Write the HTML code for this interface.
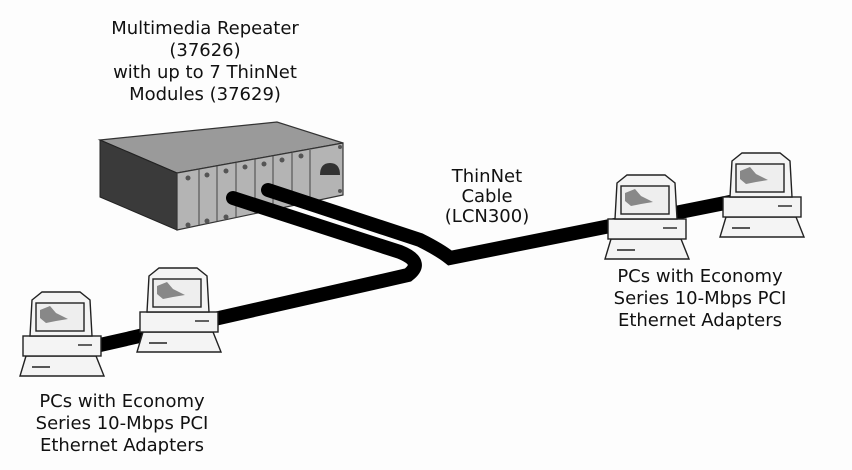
<!DOCTYPE html>
<html><head><meta charset="utf-8"><style>
html,body{margin:0;padding:0;background:#fdfdfd;}
svg{display:block}
text{font-family:"DejaVu Sans","Liberation Sans",sans-serif;font-size:18px;fill:#111;text-anchor:middle}
</style></head><body>
<svg width="852" height="470" viewBox="0 0 852 470" xmlns="http://www.w3.org/2000/svg">
<defs>
<g id="pc" stroke="#222" stroke-width="1.4" fill="#f4f4f4">
  <polygon points="6,64 76,64 84,84 0,84"/>
  <line x1="12" y1="75" x2="30" y2="75"/>
  <rect x="3" y="44" width="78" height="20"/>
  <line x1="58" y1="53" x2="72" y2="53"/>
  <polygon points="12,8 22,0 60,0 70,8 72,44 10,44"/>
  <rect x="16" y="11" width="48" height="28" fill="#eee"/>
  <path d="M20,18 L30,14 L36,21 L48,27 L36,29 L26,31 L20,26Z" fill="#888" stroke="none"/>
</g>
</defs>
<text x="205" y="34">Multimedia Repeater</text>
<text x="205" y="56">(37626)</text>
<text x="205" y="78">with up to 7 ThinNet</text>
<text x="205" y="100">Modules (37629)</text>
<text x="487" y="182">ThinNet</text>
<text x="487" y="202">Cable</text>
<text x="487" y="222">(LCN300)</text>
<text x="700" y="282">PCs with Economy</text>
<text x="700" y="304">Series 10-Mbps PCI</text>
<text x="700" y="326">Ethernet Adapters</text>
<text x="122" y="407">PCs with Economy</text>
<text x="122" y="429">Series 10-Mbps PCI</text>
<text x="122" y="451">Ethernet Adapters</text>
<polygon points="100,140 277,122 343,143 177,173" fill="#9a9a9a" stroke="#333" stroke-width="1.2"/>
<polygon points="100,140 177,173 177,230 100,197" fill="#3a3a3a" stroke="#222"/>
<polygon points="177,173 343,143 343,195 177,230" fill="#b4b4b4" stroke="#333" stroke-width="1.2"/>
<g stroke="#444" stroke-width="1">
<line x1="199" y1="169" x2="199" y2="226"/><line x1="217" y1="166" x2="217" y2="222"/>
<line x1="236" y1="163" x2="236" y2="218"/><line x1="255" y1="159" x2="255" y2="214"/>
<line x1="273" y1="156" x2="273" y2="210"/><line x1="292" y1="153" x2="292" y2="206"/>
<line x1="310" y1="150" x2="310" y2="202"/>
</g>
<g fill="#555"><circle cx="188" cy="178" r="2.5"/><circle cx="207" cy="175" r="2.5"/><circle cx="226" cy="171" r="2.5"/><circle cx="245" cy="167" r="2.5"/><circle cx="264" cy="164" r="2.5"/><circle cx="282" cy="160" r="2.5"/><circle cx="301" cy="156" r="2.5"/>
<circle cx="188" cy="225" r="2.5"/><circle cx="207" cy="221" r="2.5"/><circle cx="226" cy="217" r="2.5"/><circle cx="340" cy="147" r="2"/><circle cx="340" cy="191" r="2"/></g>
<path d="M320,175 q0,-12 10,-12 q10,0 10,12 z" fill="#333"/>
<g fill="none" stroke="#000" stroke-width="14" stroke-linecap="round">
<path d="M233,198 L400,252 Q425,262 408,275 L100,345"/>
<path d="M268,190 L420,240 Q440,250 450,258 L740,200"/>
</g>
<use href="#pc" x="20" y="292"/>
<use href="#pc" x="137" y="268"/>
<use href="#pc" x="605" y="175"/>
<use href="#pc" x="720" y="153"/>
</svg>
</body></html>
